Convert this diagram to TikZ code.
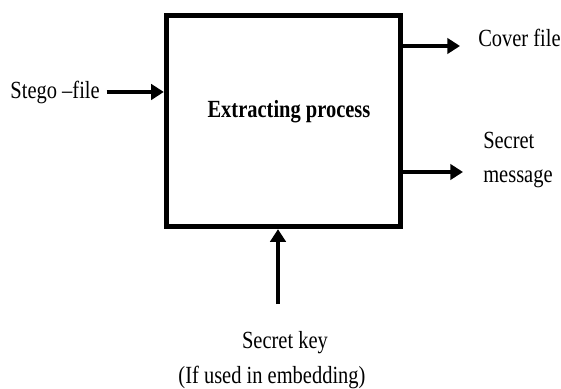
\documentclass[tikz,border=0pt]{standalone}
\usepackage{fontspec}
\setmainfont{Liberation Serif}[FakeStretch=0.83]
\usetikzlibrary{arrows.meta, positioning, calc}

\tikzset{
  procbox/.style={draw, line width=4pt, minimum width=175.5pt, minimum height=158.25pt, inner sep=0pt},
  flow/.style={line width=2.4pt, -{Triangle[length=9.5pt,width=11.5pt]}},
  lbl/.style={font=\fontsize{18.5}{25.5}\selectfont, inner sep=0pt},
}

\begin{document}
\begin{tikzpicture}[x=0.75pt, y=-0.75pt]
  \useasboundingbox (0,0) rectangle (561,389);
  % extraction block
  \node[procbox] (box) at (283.5,121) {};
  \node[lbl, font=\fontsize{18.5}{22}\selectfont\bfseries, anchor=base] (title) at (289,117) {Extracting process};
  % input
  \node[lbl, anchor=base east] (stego) at (100,98) {Stego –file};
  \draw[flow] ([xshift=5pt]stego.east) -- (stego.east -| box.west);
  % outputs
  \node[lbl, anchor=base west] (cover) at (478,46) {Cover file};
  \draw[flow] (box.east |- cover.base) -- ([xshift=-13.5pt]cover.base west);
  \node[lbl, anchor=west, align=left] (msg) at (483,160) {Secret\\message};
  \draw[flow] ($(box.east |- msg.west)+(0,12)$) -- ($(msg.west)+(-20,12)$);
  % key from below
  \node[lbl, anchor=base] (key) at (285,348) {Secret key};
  \node[lbl, anchor=base] (cond) at (272,383) {(If used in embedding)};
  \coordinate (keytail) at (278,304);
  \draw[flow] (keytail) -- (keytail |- box.south);
\end{tikzpicture}
\end{document}
